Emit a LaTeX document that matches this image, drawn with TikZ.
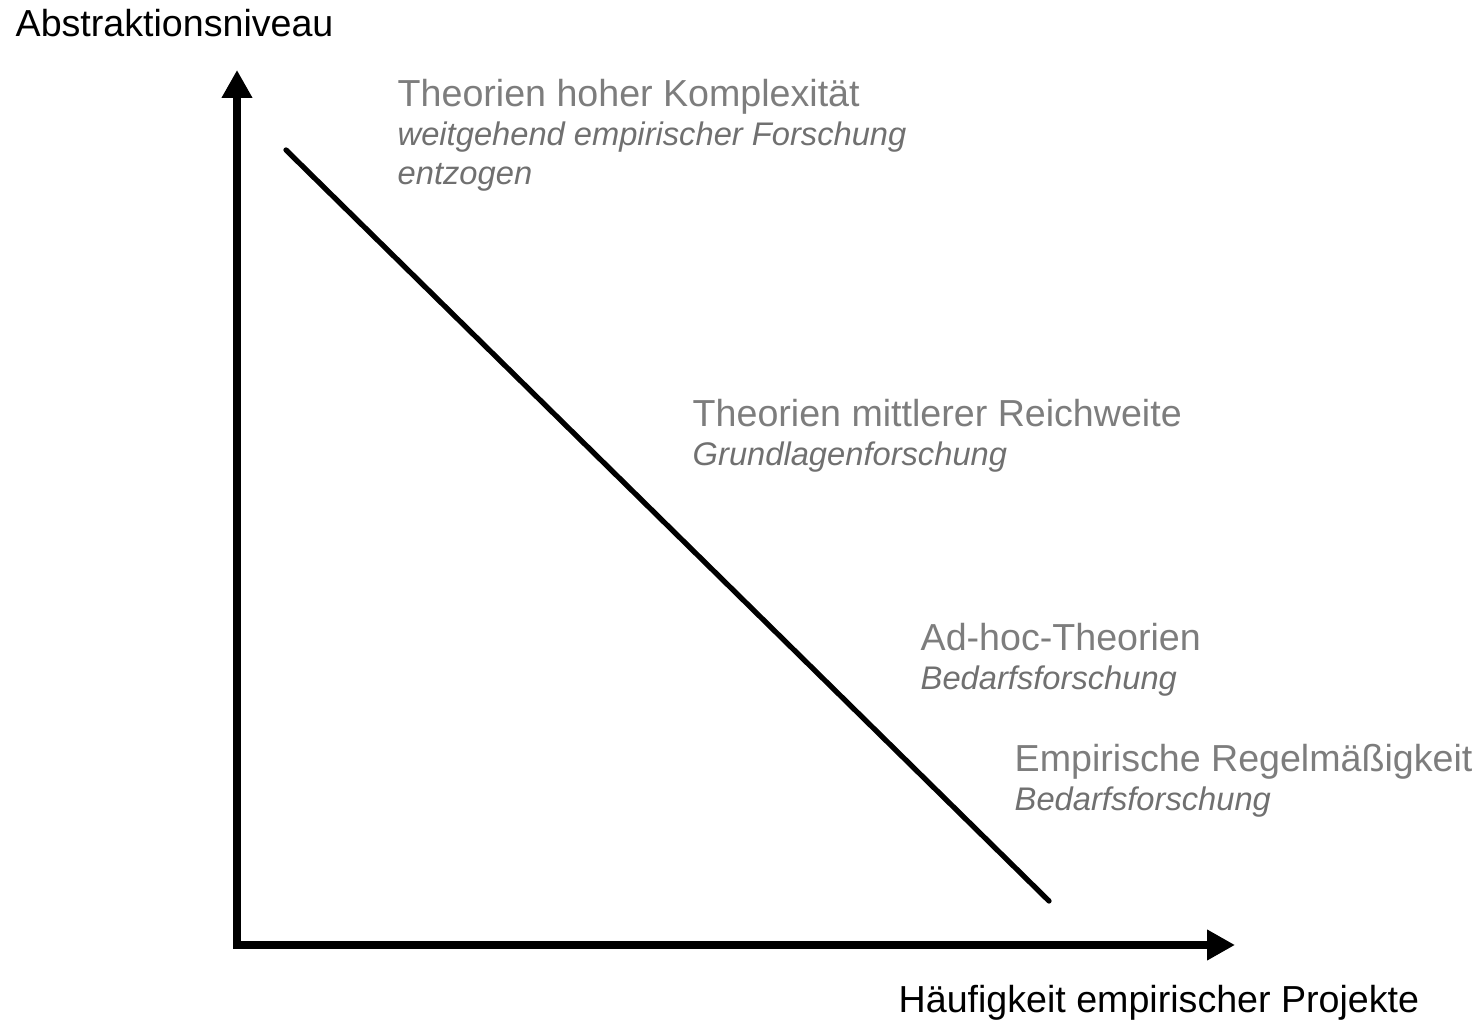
\documentclass[tikz,border=0pt]{standalone}
\usepackage{fontspec}
\setmainfont{Liberation Sans}
\usetikzlibrary{arrows.meta,positioning}
\definecolor{labelgray}{RGB}{125,125,125}
\definecolor{subgray}{RGB}{112,112,112}
\tikzset{
  axis/.style={line width=2.4pt,{Triangle[length=2.8mm,width=2.9mm]}-{Triangle[length=2.8mm,width=2.9mm]}},
  trend/.style={line width=1.5pt,line cap=round},
  axislabel/.style={inner sep=0pt,anchor=base west,font=\fontsize{10.7}{12}\selectfont},
  level/.style={axislabel,text=labelgray},
  sublevel/.style={inner sep=0pt,anchor=base west,text=subgray,font=\fontsize{9.3}{11}\selectfont\itshape}
}
\begin{document}
\begin{tikzpicture}
  \useasboundingbox (0,0) rectangle (14.79,10.23);
  \coordinate (origin) at (2.37,0.78);
  \coordinate (ytip) at (2.37,9.53);
  \coordinate (xtip) at (12.35,0.78);
  \draw[axis] (ytip) -- (origin) -- (xtip);
  \coordinate (high) at (2.86,8.73);
  \coordinate (low) at (10.49,1.22);
  \draw[trend] (high) -- (low);
  \node[axislabel] (ylabel) at (0.15,9.86) {Abstraktionsniveau};
  \node[axislabel] (xlabel) at (8.98,0.10) {Häufigkeit empirischer Projekte};
  \node[level] (complex) at (3.97,9.16) {Theorien hoher Komplexität};
  \node[sublevel] (complexa) at ([yshift=-3.9mm]complex.base west) {weitgehend empirischer Forschung};
  \node[sublevel] (complexb) at ([yshift=-3.9mm]complexa.base west) {entzogen};
  \node[level] (middle) at (6.92,5.96) {Theorien mittlerer Reichweite};
  \node[sublevel] (middlea) at ([yshift=-3.9mm]middle.base west) {Grundlagenforschung};
  \node[level] (adhoc) at (9.20,3.72) {Ad-hoc-Theorien};
  \node[sublevel] (adhoca) at ([yshift=-3.9mm]adhoc.base west) {Bedarfsforschung};
  \node[level] (rule) at (10.14,2.51) {Empirische Regelmäßigkeit};
  \node[sublevel] (rulea) at ([yshift=-3.9mm]rule.base west) {Bedarfsforschung};
\end{tikzpicture}
\end{document}
